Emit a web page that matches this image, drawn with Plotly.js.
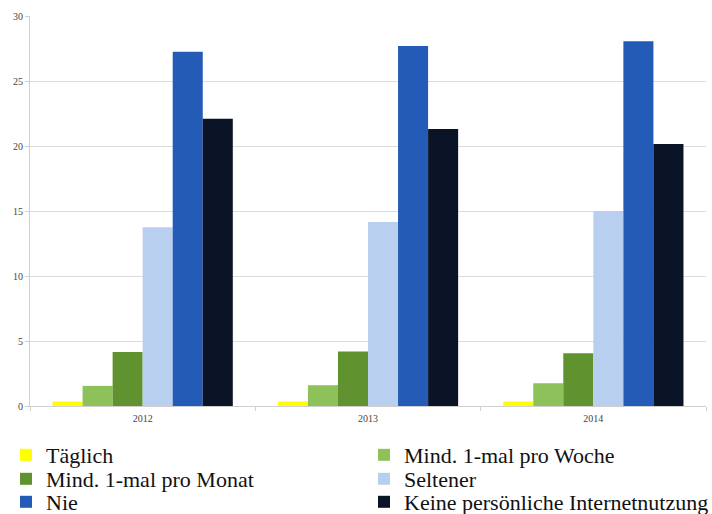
<!DOCTYPE html>
<html>
<head>
<meta charset="utf-8">
<script src="https://cdn.plot.ly/plotly-3.0.1.min.js"></script>
<style>html,body{margin:0;padding:0;background:#fff;}#chart{width:712px;height:514px;}</style>
</head>
<body>
<div id="chart"></div>
<script>
const years = ["2012", "2013", "2014"];
const seriesNames = ["Täglich", "Mind. 1-mal pro Woche", "Mind. 1-mal pro Monat", "Seltener", "Nie", "Keine persönliche Internetnutzung"];
const taeglich = [0.35, 0.35, 0.35];
const proWoche = [1.55, 1.6, 1.75];
const proMonat = [4.15, 4.2, 4.05];
const seltener = [13.75, 14.15, 15.0];
const nie = [27.25, 27.7, 28.05];
const keine = [22.1, 21.3, 20.15];
const colors = ["#ffff00", "#8fc15a", "#619230", "#b9cff0", "#245bb6", "#0a1426"];

const values = [taeglich, proWoche, proMonat, seltener, nie, keine];
const legendIds = ["legend", "legend2", "legend3", "legend4", "legend5", "legend6"];
const traces = values.map((v, i) => ({
  type: "bar",
  name: seriesNames[i],
  x: years,
  y: v,
  legend: legendIds[i],
  marker: {color: colors[i], line: {width: 0}},
  hoverinfo: "y"
}));

// legend entry placement (two columns, three rows), in pixels of the 712x514 page
const colX = [6, 364];
const rowY = [455, 479, 502];
const legendFont = {size: 22, color: "#111", family: "Liberation Serif, serif"};

const layout = {
  width: 712, height: 514,
  margin: {l: 30, r: 6, t: 16, b: 108},
  paper_bgcolor: "#fff", plot_bgcolor: "#fff",
  barmode: "group",
  bargap: 0.2, bargroupgap: 0,
  font: {family: "Liberation Serif, serif", color: "#333"},
  xaxis: {
    type: "category",
    showgrid: false,
    showline: true, linecolor: "#cfcfcf", linewidth: 1,
    ticks: "outside", tickson: "boundaries", ticklen: 4, tickcolor: "#cfcfcf",
    ticklabelstandoff: 3,
    tickfont: {size: 10, color: "#444", family: "Liberation Serif, serif"}
  },
  yaxis: {
    range: [0, 30], dtick: 5,
    showgrid: true, gridcolor: "#dcdcdc", gridwidth: 1,
    showline: true, linecolor: "#cfcfcf", linewidth: 1,
    ticks: "outside", ticklen: 4, tickcolor: "#cfcfcf",
    zeroline: false,
    tickfont: {size: 10, color: "#444", family: "Liberation Serif, serif"}
  },
  showlegend: true
};

legendIds.forEach((id, i) => {
  const col = i % 2, row = Math.floor(i / 2);
  layout[id] = {
    orientation: "h",
    xref: "container", yref: "container",
    x: colX[col] / 712, y: 1 - rowY[row] / 514,
    xanchor: "left", yanchor: "middle",
    font: legendFont, itemwidth: 30,
    bgcolor: "rgba(0,0,0,0)"
  };
});

Plotly.newPlot("chart", traces, layout, {displayModeBar: false, staticPlot: true});
</script>
</body>
</html>
